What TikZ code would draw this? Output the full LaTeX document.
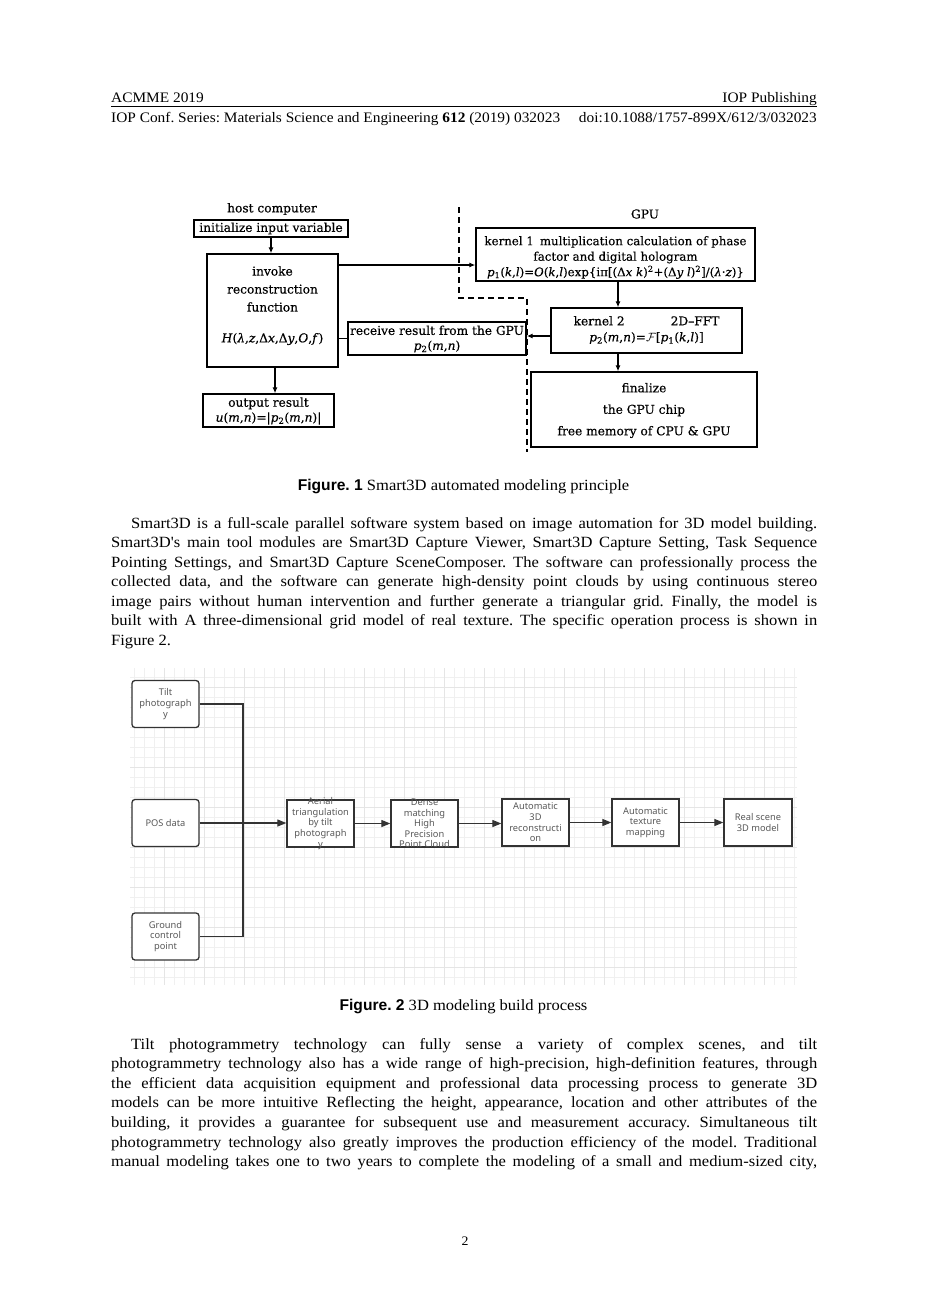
\documentclass[tikz,border=0pt]{standalone}
\usepackage{fontspec}
\setmainfont[FakeStretch=1.06]{Liberation Serif}
\newfontfamily\apfont[FakeStretch=1.06,Ligatures=TeXOff]{Liberation Serif}
\newfontfamily\figfont[FakeBold=0.4]{DejaVu Serif}
\newfontfamily\gridfont{Noto Sans}
\newfontfamily\capsans{Liberation Sans}
\usetikzlibrary{arrows.meta}
\frenchspacing
\newcommand{\apos}{{\apfont'}}
\begin{document}
\begin{tikzpicture}[x=1pt,y=-1pt,
  hdr/.style={font=\fontsize{14.5}{18}\selectfont, inner sep=0},
  bodyline/.style={font=\fontsize{15.6}{19.5}\selectfont, inner sep=0, anchor=base west},
  capnode/.style={font=\fontsize{15.6}{19.5}\selectfont, inner sep=0, anchor=base},
  fbox/.style={draw, line width=1.3pt, inner sep=0},
  ftext/.style={font=\figfont\fontsize{12.2}{15}\selectfont, align=center, inner sep=0},
  farrow/.style={-{Latex[length=6pt,width=5pt]}, line width=1.2pt},
  fline/.style={line width=1.2pt},
  fdash/.style={line width=1.3pt, dash pattern=on 6pt off 4pt},
  gridminor/.style={draw=black!6, line width=0.6pt},
  gridmajor/.style={draw=black!10, line width=0.8pt},
  gbox/.style={draw=black!80, line width=1.3pt, fill=white, minimum width=67pt, minimum height=47pt, inner sep=0},
  grbox/.style={gbox, rounded corners=3pt},
  gtext/.style={font=\gridfont\fontsize{9.3}{10.6}\selectfont, text=black!65, align=center, inner sep=0},
  garrow/.style={-{Triangle[length=9pt,width=7pt]}, line width=1.2pt, draw=black!80},
  gline/.style={line width=1.2pt, draw=black!80}
]
\useasboundingbox (0,0) rectangle (926,1309);
\fill[white] (0,0) rectangle (926,1309);

% ---------- header ----------
\node[hdr, anchor=base west] (h1l) at (111,102) {ACMME 2019};
\node[hdr, anchor=base east] (h1r) at (817,102) {IOP Publishing};
\coordinate (rulel) at (111,106.5);
\coordinate (ruler) at (817,106.5);
\draw[line width=0.8pt] (rulel) -- (ruler);
\node[hdr, anchor=base west] (h2l) at (111,122) {IOP Conf. Series: Materials Science and Engineering \textbf{612} (2019) 032023};
\node[hdr, anchor=base east] (h2r) at (817,122) {doi:10.1088/1757-899X/612/3/032023};

% ---------- figure 1 ----------
\node[ftext] (host) at (272,209) {host computer};
\node[ftext] (gpu) at (645,214) {GPU};
\node[fbox, ftext, minimum width=154pt, minimum height=17pt] (init) at (271,228.5) {initialize input variable};
\node[fbox, minimum width=131pt, minimum height=113pt] (invoke) at (272.5,310.5) {};
\node[ftext, font=\figfont\fontsize{12.2}{18}\selectfont] (invt) at (272.5,289) {invoke\\reconstruction\\function};
\node[ftext] (invh) at (272.5,339) {\textit{H}(\textit{λ},\textit{z},Δ\textit{x},Δ\textit{y},\textit{O},\textit{f})};
\node[fbox, minimum width=131pt, minimum height=33pt] (output) at (268.5,410.5) {};
\node[ftext] (outt) at (268.5,411) {output result\\\textit{u}(\textit{m},\textit{n})=|\textit{p}\textsubscript{2}(\textit{m},\textit{n})|};
\node[fbox, minimum width=178pt, minimum height=33pt] (receive) at (437,338.5) {};
\node[ftext] (rect) at (437,339) {receive result from the GPU\\\textit{p}\textsubscript{2}(\textit{m},\textit{n})};
\node[fbox, minimum width=279pt, minimum height=53pt] (kernel1) at (615.5,254.5) {};
\node[ftext, font=\figfont\fontsize{11.8}{15.5}\selectfont] (k1t) at (615.5,257.5) {kernel 1\hspace{6pt}multiplication calculation of phase\\factor and digital hologram\\\textit{p}\textsubscript{1}(\textit{k},\textit{l})=\textit{O}(\textit{k},\textit{l})exp\{iπ[(Δ\textit{x k})\textsuperscript{2}+(Δ\textit{y l})\textsuperscript{2}]/(\textit{λ}·\textit{z})\}};
\node[fbox, minimum width=191pt, minimum height=45pt] (kernel2) at (646.5,330.5) {};
\node[ftext, font=\figfont\fontsize{12.2}{16}\selectfont] (k2t) at (646.5,330) {kernel 2\hspace{46pt}2D–FFT\\\textit{p}\textsubscript{2}(\textit{m},\textit{n})=$\mathcal{F}$[\textit{p}\textsubscript{1}(\textit{k},\textit{l})]};
\node[fbox, minimum width=226pt, minimum height=75pt] (final) at (644,409.5) {};
\node[ftext, font=\figfont\fontsize{12.2}{21.5}\selectfont] (fint) at (644,410.5) {finalize\\the GPU chip\\free memory of CPU \& GPU};

% dashed boundary
\coordinate (d1) at (459,207);
\coordinate (d2) at (459,298);
\coordinate (d3) at (527,298);
\coordinate (d4) at (527,452);
\draw[fdash] (d1) -- (d2) -- (d3) -- (d4);

% connectors
\draw[farrow] (init.south) -- (init.south |- invoke.north);
\coordinate (k1in) at ([yshift=-10.5pt]kernel1.west);
\draw[farrow] (k1in -| invoke.east) -- (k1in);
\coordinate (k1out) at ([xshift=2.5pt]kernel1.south);
\draw[farrow] (k1out) -- (k1out |- kernel2.north);
\coordinate (k2out) at ([yshift=-5.5pt]kernel2.west);
\draw[farrow] (k2out) -- (k2out -| receive.east);
\draw[fline] (receive.west) -- (receive.west -| invoke.east);
\coordinate (k2dn) at ([xshift=-28.5pt]kernel2.south);
\draw[farrow] (k2dn) -- (k2dn |- final.north);
\coordinate (invdn) at ([xshift=2.5pt]invoke.south);
\draw[farrow] (invdn) -- (invdn |- output.north);

% ---------- caption 1 and paragraph 1 ----------
\node[capnode] (cap1) at (463.5,490) {{\capsans\bfseries Figure. 1} Smart3D automated modeling principle};
\node[bodyline] (a1) at (131,528) {\makebox[686pt][s]{Smart3D is a full-scale parallel software system based on image automation for 3D model building.}};
\node[bodyline] (a2) at (111,547.5) {\makebox[706pt][s]{Smart3D\apos s main tool modules are Smart3D Capture Viewer, Smart3D Capture Setting, Task Sequence}};
\node[bodyline] (a3) at (111,567) {\makebox[706pt][s]{Pointing Settings, and Smart3D Capture SceneComposer. The software can professionally process the}};
\node[bodyline] (a4) at (111,586.5) {\makebox[706pt][s]{collected data, and the software can generate high-density point clouds by using continuous stereo}};
\node[bodyline] (a5) at (111,606) {\makebox[706pt][s]{image pairs without human intervention and further generate a triangular grid. Finally, the model is}};
\node[bodyline] (a6) at (111,625.5) {\makebox[706pt][s]{built with A three-dimensional grid model of real texture. The specific operation process is shown in}};
\node[bodyline] (a7) at (111,645) {Figure 2.};

% ---------- figure 2 ----------
\foreach \x in {134,144,...,794} \draw[gridminor] (\x,668) -- (\x,985);
\foreach \y in {677,687,...,977} \draw[gridminor] (130,\y) -- (797,\y);
\foreach \x in {164,204,...,764} \draw[gridmajor] (\x,668) -- (\x,985);
\foreach \y in {687,727,...,967} \draw[gridmajor] (130,\y) -- (797,\y);

\node[grbox] (tilt) at (165.5,704) {};
\node[gtext] (tiltt) at (tilt.center) {Tilt\\photograph\\y};
\node[grbox] (pos) at (165.5,823) {};
\node[gtext] (post) at (pos.center) {POS data};
\node[grbox] (ground) at (165.5,936.5) {};
\node[gtext] (groundt) at (ground.center) {Ground\\control\\point};
\node[gbox] (aerial) at (320.5,823.5) {};
\node[gtext] (aerialt) at (aerial.center) {Aerial\\triangulation\\by tilt\\photograph\\y};
\node[gbox] (dense) at (424.5,823.5) {};
\node[gtext] (denset) at (dense.center) {Dense\\matching\\High\\Precision\\Point Cloud};
\node[gbox] (auto) at (535.5,822.5) {};
\node[gtext] (autot) at (auto.center) {Automatic\\3D\\reconstructi\\on};
\node[gbox] (tex) at (645.5,822.5) {};
\node[gtext] (text) at (tex.center) {Automatic\\texture\\mapping};
\node[gbox, minimum width=68pt] (real) at (758,822.5) {};
\node[gtext] (realt) at (real.center) {Real scene\\3D model};

\coordinate (bus) at (243,823);
\draw[gline] (tilt.east) -- (tilt.east -| bus) -- (ground.east -| bus) -- (ground.east);
\draw[garrow] (pos.east) -- (pos.east -| aerial.west);
\draw[garrow] (aerial.east) -- (dense.west);
\draw[garrow] (dense.east) -- (dense.east -| auto.west);
\draw[garrow] (auto.east) -- (tex.west);
\draw[garrow] (tex.east) -- (real.west);

% ---------- caption 2 and paragraph 2 ----------
\node[capnode] (cap2) at (463.5,1010) {{\capsans\bfseries Figure. 2} 3D modeling build process};
\node[bodyline] (b1) at (131,1049) {\makebox[686pt][s]{Tilt photogrammetry technology can fully sense a variety of complex scenes, and tilt}};
\node[bodyline] (b2) at (111,1068.6) {\makebox[706pt][s]{photogrammetry technology also has a wide range of high-precision, high-definition features, through}};
\node[bodyline] (b3) at (111,1088.2) {\makebox[706pt][s]{the efficient data acquisition equipment and professional data processing process to generate 3D}};
\node[bodyline] (b4) at (111,1107.8) {\makebox[706pt][s]{models can be more intuitive Reflecting the height, appearance, location and other attributes of the}};
\node[bodyline] (b5) at (111,1127.4) {\makebox[706pt][s]{building, it provides a guarantee for subsequent use and measurement accuracy. Simultaneous tilt}};
\node[bodyline] (b6) at (111,1147) {\makebox[706pt][s]{photogrammetry technology also greatly improves the production efficiency of the model. Traditional}};
\node[bodyline] (b7) at (111,1166.6) {\makebox[706pt][s]{manual modeling takes one to two years to complete the modeling of a small and medium-sized city,}};

% page number
\node[font=\fontsize{13}{15}\selectfont, inner sep=0, anchor=base] (pnum) at (465,1245) {2};
\end{tikzpicture}
\end{document}
